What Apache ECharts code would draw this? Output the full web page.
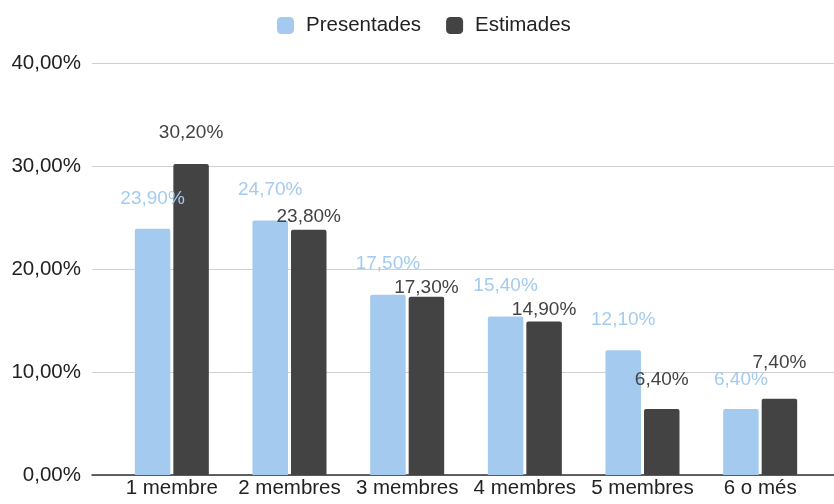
<!DOCTYPE html>
<html>
<head>
<meta charset="utf-8">
<script src="https://cdn.jsdelivr.net/npm/echarts@6/dist/echarts.min.js"></script>
<style>
html,body{margin:0;padding:0;background:#fff;}
#c{width:834px;height:504px;}
</style>
</head>
<body>
<div id="c"></div>
<script>
const categories = ['1 membre', '2 membres', '3 membres', '4 membres', '5 membres', '6 o més'];
const presentades = [23.9, 24.7, 17.5, 15.4, 12.1, 6.4];
const estimades = [30.2, 23.8, 17.3, 14.9, 6.4, 7.4];
const seriesNames = ['Presentades', 'Estimades'];
const yTicks = [0, 10, 20, 30, 40];

// label lift (style only): distance of label above bar top
const presLift = [21, 21, 21, 21, 21, 20];
const estLift = [22, 4, 0, 2.5, 20, 27];

const FONT = '"Liberation Sans", Arial, sans-serif';
const AXFS = 20.5;
const LBFS = 19;
const BLUE = '#a4cbef';
const DARK = '#434343';

function fmt(v) { return v.toFixed(2).replace('.', ',') + '%'; }

const chart = echarts.init(document.getElementById('c'), null, {renderer: 'canvas'});
const option = {
  animation: false,
  textStyle: {fontFamily: FONT},
  legend: {
    top: 10,
    left: 272,
    itemWidth: 17,
    itemHeight: 17,
    itemGap: 25,
    icon: 'roundRect',
    textStyle: {fontFamily: FONT, fontSize: 20.5, color: '#222', padding: [0, 0, 0, 7]},
    data: seriesNames
  },
  grid: [
    {left: 113, right: 15, top: 63, bottom: 29},
    {left: 92, right: 0, top: 63, bottom: 29}
  ],
  xAxis: [
    {
      type: 'category', gridIndex: 0, data: categories,
      axisLine: {show: false}, axisTick: {show: false},
      axisLabel: {fontFamily: FONT, fontSize: AXFS, color: '#222', margin: 3, interval: 0}
    },
    {
      type: 'category', gridIndex: 1, data: [''],
      axisLine: {show: true, lineStyle: {color: '#333', width: 1.5}},
      axisTick: {show: false}, axisLabel: {show: false}
    }
  ],
  yAxis: [
    {
      type: 'value', gridIndex: 0, min: yTicks[0], max: yTicks[yTicks.length - 1], interval: 10,
      axisLine: {show: false}, axisTick: {show: false}, axisLabel: {show: false}, splitLine: {show: false}
    },
    {
      type: 'value', gridIndex: 1, min: yTicks[0], max: yTicks[yTicks.length - 1], interval: 10,
      axisLine: {show: false}, axisTick: {show: false},
      axisLabel: {fontFamily: FONT, fontSize: AXFS, color: '#222', margin: 11, formatter: v => fmt(v)},
      splitLine: {show: true, lineStyle: {color: '#d0d0d0', width: 1}}
    }
  ],
  series: [
    {
      name: seriesNames[0], type: 'bar', xAxisIndex: 0, yAxisIndex: 0,
      barWidth: 35.5, barGap: '8.5%',
      itemStyle: {color: BLUE, borderRadius: [2, 2, 0, 0]},
      label: {show: true, position: 'top', fontFamily: FONT, fontSize: LBFS, color: BLUE, formatter: p => fmt(p.value)},
      data: presentades.map((v, i) => ({value: v, label: {distance: presLift[i]}}))
    },
    {
      name: seriesNames[1], type: 'bar', xAxisIndex: 0, yAxisIndex: 0,
      barWidth: 35.5, barGap: '8.5%',
      itemStyle: {color: DARK, borderRadius: [2, 2, 0, 0]},
      label: {show: true, position: 'top', fontFamily: FONT, fontSize: LBFS, color: DARK, formatter: p => fmt(p.value)},
      data: estimades.map((v, i) => ({value: v, label: {distance: estLift[i]}}))
    }
  ]
};
chart.setOption(option);
</script>
</body>
</html>
